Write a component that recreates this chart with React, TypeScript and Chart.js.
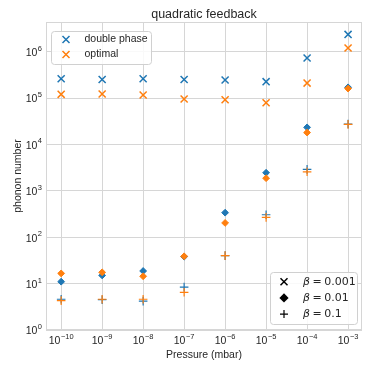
import React, { useEffect, useRef } from "react";
import { Chart, registerables } from "chart.js";

Chart.register(...registerables);

const pressureExp = [-10, -9, -8, -7, -6, -5, -4, -3];
const xTickExponents = ["−10", "−9", "−8", "−7", "−6", "−5", "−4", "−3"];
const yTickValues = [1, 10, 100, 1e3, 1e4, 1e5, 1e6];
const yTickExponents = ["0", "1", "2", "3", "4", "5", "6"];

const doublePhaseB001 = [2.6e5, 2.5e5, 2.6e5, 2.5e5, 2.45e5, 2.25e5, 7.3e5, 2.35e6];
const optimalB001 = [1.2e5, 1.22e5, 1.16e5, 9.5e4, 9.2e4, 7.9e4, 2.1e5, 1.2e6];
const doublePhaseB01 = [11, 15, 18.7, 38, 338, 2450, 2.33e4, 1.7e5];
const optimalB01 = [16.6, 17.5, 14.4, 38.8, 203, 1870, 1.8e4, 1.6e5];
const doublePhaseB1 = [4.6, 4.5, 4.2, 8.4, 40, 305, 2900, 2.75e4];
const optimalB1 = [4.3, 4.6, 4.6, 6.5, 40, 268, 2570, 2.7e4];

const BLUE = "#1f77b4";
const ORANGE = "#ff7f0e";
const TEXT = "#262626";
const GRID = "#d6d6d6";
const FONT = "'Liberation Sans', Arial, sans-serif";

const pts = (vals: number[]) => vals.map((v, i) => ({ x: pressureExp[i], y: v }));

function drawMarker(ctx: CanvasRenderingContext2D, style: string, x: number, y: number, color: string) {
  ctx.save();
  ctx.strokeStyle = color;
  ctx.fillStyle = color;
  ctx.beginPath();
  if (style === "x") {
    const r = 3.5;
    ctx.lineWidth = 1.5;
    ctx.moveTo(x - r, y - r);
    ctx.lineTo(x + r, y + r);
    ctx.moveTo(x - r, y + r);
    ctx.lineTo(x + r, y - r);
    ctx.stroke();
  } else if (style === "d") {
    const r = 4.6;
    ctx.moveTo(x, y - r);
    ctx.lineTo(x + r, y);
    ctx.lineTo(x, y + r);
    ctx.lineTo(x - r, y);
    ctx.closePath();
    ctx.fill();
  } else {
    const r = 4;
    ctx.lineWidth = 1.2;
    ctx.moveTo(x - r, y);
    ctx.lineTo(x + r, y);
    ctx.moveTo(x, y - r);
    ctx.lineTo(x, y + r);
    ctx.stroke();
  }
  ctx.restore();
}

function roundRect(ctx: CanvasRenderingContext2D, x: number, y: number, w: number, h: number, r: number) {
  ctx.beginPath();
  ctx.moveTo(x + r, y);
  ctx.lineTo(x + w - r, y);
  ctx.quadraticCurveTo(x + w, y, x + w, y + r);
  ctx.lineTo(x + w, y + h - r);
  ctx.quadraticCurveTo(x + w, y + h, x + w - r, y + h);
  ctx.lineTo(x + r, y + h);
  ctx.quadraticCurveTo(x, y + h, x, y + h - r);
  ctx.lineTo(x, y + r);
  ctx.quadraticCurveTo(x, y, x + r, y);
  ctx.closePath();
}

// draws "10" with a raised exponent; align: "right" or "center"
function drawPow(ctx: CanvasRenderingContext2D, exp: string, x: number, y: number, align: string) {
  ctx.font = `10.5px ${FONT}`;
  const bw = ctx.measureText("10").width;
  ctx.font = `7.5px ${FONT}`;
  const ew = ctx.measureText(exp).width;
  const total = bw + ew + 0.5;
  const left = align === "right" ? x - total : x - total / 2;
  ctx.textAlign = "left";
  ctx.textBaseline = "middle";
  ctx.fillStyle = TEXT;
  ctx.font = `10.5px ${FONT}`;
  ctx.fillText("10", left, y + 1.5);
  ctx.font = `7.5px ${FONT}`;
  ctx.fillText(exp, left + bw + 0.5, y - 3);
}

const framePlugin = {
  id: "frameAndLegends",
  afterDraw(chart: any) {
    const ctx: CanvasRenderingContext2D = chart.ctx;
    const a = chart.chartArea;
    ctx.save();
    ctx.strokeStyle = GRID;
    ctx.lineWidth = 1;
    ctx.strokeRect(Math.round(a.left) + 0.5, Math.round(a.top) + 0.5, Math.round(a.right - a.left) - 1, Math.round(a.bottom - a.top) - 1);

    // tick labels
    const xs = chart.scales.x;
    const ys = chart.scales.y;
    pressureExp.forEach((v, i) => {
      drawPow(ctx, xTickExponents[i], xs.getPixelForValue(v), a.bottom + 9.5, "center");
    });
    yTickValues.forEach((v, i) => {
      drawPow(ctx, yTickExponents[i], a.left - 4, ys.getPixelForValue(v), "right");
    });

    // Legend 1 (top-left)
    const l1x = a.left + 5, l1y = a.top + 9, l1w = 100, l1h = 33;
    roundRect(ctx, l1x + 0.5, l1y + 0.5, l1w, l1h, 3);
    ctx.fillStyle = "rgba(255,255,255,0.85)";
    ctx.fill();
    ctx.strokeStyle = "#d0d0d0";
    ctx.stroke();
    ctx.textBaseline = "middle";
    ctx.textAlign = "left";
    const ent1 = [
      { c: BLUE, t: "double phase" },
      { c: ORANGE, t: "optimal" },
    ];
    ent1.forEach((e, i) => {
      const yy = l1y + 8.5 + i * 15;
      drawMarker(ctx, "x", l1x + 15, yy, e.c);
      ctx.fillStyle = TEXT;
      ctx.font = `10.5px ${FONT}`;
      ctx.fillText(e.t, l1x + 33.5, yy);
    });

    // Legend 2 (bottom-right)
    const l2x = 270.5, l2y = 272.5, l2w = 87, l2h = 52;
    roundRect(ctx, l2x, l2y, l2w, l2h, 3);
    ctx.fillStyle = "rgba(255,255,255,0.85)";
    ctx.fill();
    ctx.strokeStyle = "#d0d0d0";
    ctx.stroke();
    const ent2 = [
      { s: "x", v: "0.001" },
      { s: "d", v: "0.01" },
      { s: "+", v: "0.1" },
    ];
    ent2.forEach((e, i) => {
      const yy = 281.7 + i * 16.2;
      drawMarker(ctx, e.s, 284, yy, "#000000");
      ctx.fillStyle = TEXT;
      ctx.font = `italic 11px 'DejaVu Sans', sans-serif`;
      ctx.fillText("β", 303, yy);
      const bw = ctx.measureText("β").width;
      ctx.font = `11px 'DejaVu Sans', sans-serif`;
      ctx.fillText("=", 303 + bw + 2.5, yy);
      const ew = ctx.measureText("=").width;
      ctx.fillText(e.v, 303 + bw + ew + 5, yy);
    });
    ctx.restore();
  },
};

export default function App() {
  const ref = useRef<HTMLCanvasElement | null>(null);
  useEffect(() => {
    document.body.style.margin = "0";
    const canvas = ref.current!;
    const mk = (label: string, vals: number[], style: string, color: string, radius: number, bw: number, order: number) => ({
      label,
      data: pts(vals),
      pointStyle: style,
      pointRadius: radius,
      pointHoverRadius: radius,
      pointBorderWidth: bw,
      borderColor: color,
      backgroundColor: color,
      showLine: false,
      order,
    });
    const chart = new Chart(canvas, {
      type: "scatter",
      data: {
        datasets: [
          mk("double phase", doublePhaseB001, "crossRot", BLUE, 5, 1.5, 6),
          mk("optimal", optimalB001, "crossRot", ORANGE, 5, 1.5, 5),
          mk("double phase β=0.01", doublePhaseB01, "rectRot", BLUE, 3.4, 1, 4),
          mk("optimal β=0.01", optimalB01, "rectRot", ORANGE, 3.4, 1, 3),
          mk("double phase β=0.1", doublePhaseB1, "cross", BLUE, 4.3, 1.2, 2),
          mk("optimal β=0.1", optimalB1, "cross", ORANGE, 4.3, 1.2, 1),
        ],
      },
      options: {
        animation: false,
        responsive: false,
        maintainAspectRatio: false,
        layout: { padding: { left: 12, right: 12, top: 0, bottom: 13 } },
        plugins: {
          legend: { display: false },
          tooltip: { enabled: false },
          title: {
            display: true,
            text: "quadratic feedback",
            color: TEXT,
            fullSize: false,
            font: { family: FONT, size: 12.5, weight: "normal" },
            padding: { top: 7, bottom: 0 },
          },
        },
        scales: {
          x: {
            type: "linear",
            min: -10.37,
            max: -2.66,
            afterBuildTicks: (scale: any) => {
              scale.ticks = pressureExp.map((v) => ({ value: v }));
            },
            afterFit: (scale: any) => {
              scale.height = 31;
            },
            ticks: { display: false },
            grid: { color: GRID, lineWidth: 1, drawTicks: false },
            border: { display: false },
            title: {
              display: true,
              text: "Pressure (mbar)",
              color: TEXT,
              font: { family: FONT, size: 10.5 },
              padding: { top: 0, bottom: 0 },
            },
          },
          y: {
            type: "logarithmic",
            min: 1,
            max: 4.35e6,
            afterBuildTicks: (scale: any) => {
              scale.ticks = yTickValues.map((v) => ({ value: v }));
            },
            afterFit: (scale: any) => {
              scale.width = 34;
            },
            ticks: { display: false },
            grid: { color: GRID, lineWidth: 1, drawTicks: false },
            border: { display: false },
            title: {
              display: true,
              text: "phonon number",
              color: TEXT,
              font: { family: FONT, size: 10.5 },
              padding: { top: 0, bottom: 0 },
            },
          },
        },
      },
      plugins: [framePlugin],
    } as any);
    return () => chart.destroy();
  }, []);
  return (
    <div style={{ width: 374, height: 374 }}>
      <canvas ref={ref} width={374} height={374} style={{ width: 374, height: 374, display: "block" }} />
    </div>
  );
}
